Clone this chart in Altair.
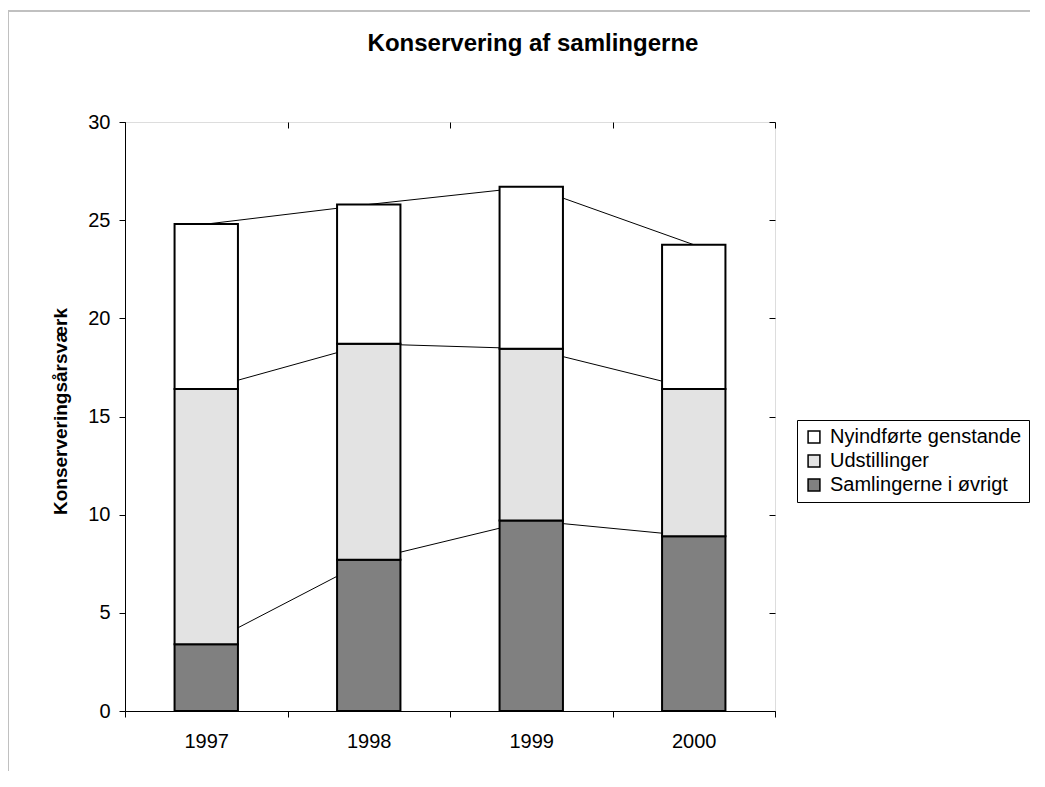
import altair as alt
import pandas as pd

years = ["1997", "1998", "1999", "2000"]
series_names = ["Nyindførte genstande", "Udstillinger", "Samlingerne i øvrigt"]
samlingerne = [3.4, 7.7, 9.7, 8.9]
udstillinger = [13.0, 11.0, 8.75, 7.5]
nyindforte = [8.4, 7.1, 8.25, 7.35]
colors = ["#ffffff", "#e3e3e3", "#808080"]

FONT = "Liberation Sans"

rows = []
for i, yr in enumerate(years):
    lo = 0.0
    for name, vals, order in [
        ("Samlingerne i øvrigt", samlingerne, 0),
        ("Udstillinger", udstillinger, 1),
        ("Nyindførte genstande", nyindforte, 2),
    ]:
        hi = lo + vals[i]
        rows.append({"year": yr, "series": name, "lo": lo, "hi": hi, "ord": order})
        lo = hi
df = pd.DataFrame(rows)

xscale = alt.Scale(domain=years, paddingInner=0, paddingOuter=0)
yscale = alt.Scale(domain=[0, 30], nice=False)

x_main = alt.Axis(title=None, labelFontSize=20, labelFont=FONT, labelColor="black",
                  domainColor="black", tickColor="black", tickSize=6, tickBand="extent",
                  labelPadding=14, labelAngle=0, grid=False)
y_main = alt.Axis(values=[0, 5, 10, 15, 20, 25, 30], title="Konserveringsårsværk",
                  titleFontSize=19, titleFontWeight="bold", titleFont=FONT, titleColor="black",
                  titleX=-65, titleY=289, titleAngle=-90, titleAlign="center",
                  titleBaseline="middle", labelFontSize=20, labelFont=FONT,
                  labelColor="black", domainColor="black", tickColor="black",
                  tickSize=6, labelPadding=9, grid=False)
x_inner = alt.Axis(title=None, labels=False, domain=False, tickSize=6, offset=-6,
                   tickBand="extent", tickColor="black", grid=False)
y_inner = alt.Axis(values=[0, 5, 10, 15, 20, 25, 30], title=None, labels=False,
                   domain=False, tickSize=6, offset=-6, tickColor="black", grid=False)

lines = alt.Chart(df).mark_line(color="black", strokeWidth=1).encode(
    x=alt.X("year:N", scale=xscale, axis=x_main),
    y=alt.Y("hi:Q", scale=yscale, axis=y_main),
    detail="series:N",
)

bars = alt.Chart(df).mark_bar(
    width=alt.RelativeBandSize(0.39), stroke="black", strokeWidth=2
).encode(
    x=alt.X("year:N", scale=xscale, axis=x_inner),
    y=alt.Y("hi:Q", scale=yscale, axis=y_inner),
    y2="lo:Q",
    color=alt.Color(
        "series:N",
        scale=alt.Scale(domain=series_names, range=colors),
        legend=alt.Legend(
            title=None, orient="none", legendX=672, legendY=298,
            symbolType="square", symbolSize=140, symbolStrokeColor="black",
            symbolStrokeWidth=1.5, symbolOpacity=1, labelFontSize=20, labelFont=FONT,
            labelColor="black", rowPadding=4, padding=7, strokeColor="black",
            fillColor="white", labelLimit=400, labelOffset=6,
        ),
    ),
    order=alt.Order("ord:Q"),
)

frame_df = pd.DataFrame({"k": [0]})
frame_top = alt.Chart(frame_df).mark_rule(color="#c0c0c0", strokeWidth=2).encode(
    x=alt.value(-117), x2=alt.value(960), y=alt.value(-111)
)
frame_left = alt.Chart(frame_df).mark_rule(color="#c0c0c0", strokeWidth=2).encode(
    x=alt.value(-117), y=alt.value(-111), y2=alt.value(720)
)

chart = alt.layer(frame_top, frame_left, lines, bars).resolve_axis(
    x="independent", y="independent"
).properties(
    width=650,
    height=589,
    autosize=alt.AutoSizeParams(type="none"),
    padding={"left": 117, "top": 114, "right": 255, "bottom": 60},
    title=alt.TitleParams(
        "Konservering af samlingerne", fontSize=24, fontWeight="bold", font=FONT,
        color="black", anchor="middle", dx=83, offset=-65, baseline="alphabetic",
    ),
).configure_view(stroke=None).configure(background="white")

chart.save("out.html", embed_options={"renderer": "svg", "actions": False})
